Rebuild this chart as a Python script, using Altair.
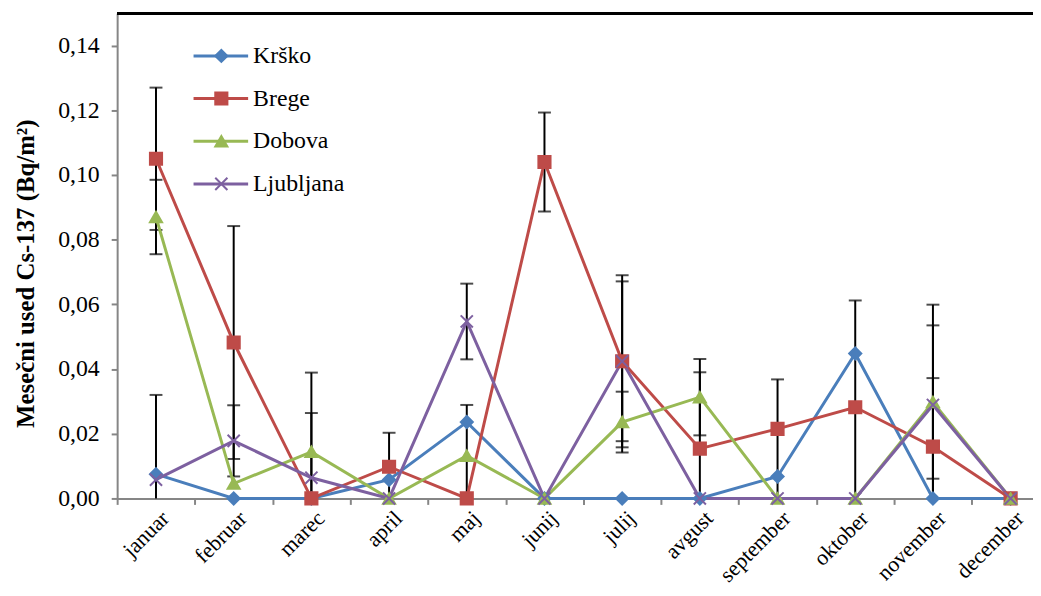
import altair as alt
import pandas as pd

# ---- data ----
months = ["januar", "februar", "marec", "april", "maj", "junij", "julij",
          "avgust", "september", "oktober", "november", "december"]
series_names = ["Krško", "Brege", "Dobova", "Ljubljana"]

krsko = [0.0075, 0.0, 0.0, 0.0058, 0.0236, 0.0, 0.0, 0.0, 0.0068, 0.0448, 0.0, 0.0]
brege = [0.105, 0.0482, 0.0, 0.0098, 0.0, 0.104, 0.0424, 0.0154, 0.0215, 0.0282, 0.016, 0.0]
dobova = [0.087, 0.0046, 0.0144, 0.0, 0.0132, 0.0, 0.0236, 0.0313, 0.0, 0.0, 0.0298, 0.0]
ljubljana = [0.0058, 0.0178, 0.0064, 0.0, 0.0547, 0.0, 0.0424, 0.0, 0.0, 0.0, 0.0289, 0.0]

krsko_err = [0.0245, 0, 0, 0, 0, 0, 0, 0, 0.030, 0, 0, 0]
brege_err = [0.022, 0.036, 0, 0.0105, 0, 0.0153, 0.0247, 0.0236, 0, 0.033, 0.0212, 0]
dobova_err = [0.0115, 0, 0.0245, 0, 0.0157, 0, 0.0094, 0.0118, 0, 0, 0.0237, 0]
ljubljana_err = [0, 0.011, 0.020, 0, 0.0117, 0, 0.0266, 0, 0, 0, 0.031, 0]

y_ticks = [0.0, 0.02, 0.04, 0.06, 0.08, 0.10, 0.12, 0.14]

# ---- styles ----
colors = ["#4A7EBB", "#BE4B48", "#98B954", "#7D60A0"]
shapes = ["diamond", "square", "triangle-up", "M-1,-1L1,1M-1,1L1,-1"]
FONT = "'Liberation Serif', 'Times New Roman', Times, serif"
AXIS_GRAY = "#868686"
W, H = 923, 489
STEP = 78.3  # pixel width of one month category

rows = []
for order, (name, vals, errs) in enumerate(zip(
        series_names, [krsko, brege, dobova, ljubljana],
        [krsko_err, brege_err, dobova_err, ljubljana_err])):
    for i, (v, e) in enumerate(zip(vals, errs)):
        rows.append(dict(idx=i, month=months[i], series=name, order=order,
                         value=v, err=e, lo=max(0.0, v - e), hi=v + e,
                         lowcap=(v - e) > 0))
df = pd.DataFrame(rows)
err_df = df[df.err > 0]
low_df = err_df[err_df.lowcap]

x_scale = alt.Scale(domain=[-0.5, -0.5 + W / STEP], nice=False, zero=False)
y_scale = alt.Scale(domain=[0, 0.15], nice=False, zero=False)
color_scale = alt.Scale(domain=series_names, range=colors)
shape_scale = alt.Scale(domain=series_names, range=shapes)

month_expr = "[" + ",".join("'%s'" % m for m in months) + "][datum.value]"

x_axis = alt.Axis(values=list(range(12)), labelExpr=month_expr,
                  tickOffset=-STEP / 2, labelOffset=STEP / 2 + 2,
                  labelAngle=-45, labelFont=FONT, labelFontSize=22,
                  labelColor="black", labelPadding=3, labelOverlap=False,
                  labelFlush=False, title=None, grid=False,
                  domainColor=AXIS_GRAY, domainWidth=2, tickColor=AXIS_GRAY,
                  tickWidth=2, tickSize=6)
y_axis = alt.Axis(values=y_ticks,
                  labelExpr="replace(format(datum.value, '.2f'), '.', ',')",
                  labelFont=FONT, labelFontSize=24, labelColor="black",
                  labelPadding=12, labelOverlap=False, labelFlush=False,
                  grid=False,
                  domainColor=AXIS_GRAY, domainWidth=2, tickColor=AXIS_GRAY,
                  tickWidth=2, tickSize=6,
                  title="Mesečni used Cs-137 (Bq/m²)", titleFont=FONT,
                  titleFontSize=25, titleFontWeight="bold", titleColor="black",
                  titlePadding=19, titleY=262)

X = alt.X("idx:Q", scale=x_scale, axis=x_axis)

bars = alt.Chart(err_df).mark_rule(color="black", strokeWidth=2).encode(
    x=alt.X("idx:Q", scale=x_scale),
    y=alt.Y("lo:Q", scale=y_scale),
    y2="hi:Q")
top_caps = alt.Chart(err_df).mark_tick(orient="horizontal", color="black",
                                       thickness=2, size=13).encode(
    x=alt.X("idx:Q", scale=x_scale), y=alt.Y("hi:Q", scale=y_scale))
low_caps = alt.Chart(low_df).mark_tick(orient="horizontal", color="black",
                                       thickness=2, size=13).encode(
    x=alt.X("idx:Q", scale=x_scale), y=alt.Y("lo:Q", scale=y_scale))

lines = alt.Chart(df).mark_line(strokeWidth=3).encode(
    x=X,
    y=alt.Y("value:Q", scale=y_scale, axis=y_axis),
    color=alt.Color("series:N", scale=color_scale, legend=None),
    order="idx:Q")

points = alt.Chart(df).mark_point(filled=True, size=150, strokeWidth=2,
                                  opacity=1).encode(
    x=alt.X("idx:Q", scale=x_scale),
    y=alt.Y("value:Q", scale=y_scale),
    color=alt.Color("series:N", scale=color_scale, legend=None),
    stroke=alt.Stroke("series:N", scale=color_scale, legend=None),
    shape=alt.Shape("series:N", scale=shape_scale, legend=None))

frame = alt.Chart(df).mark_rule(color="black", strokeWidth=2).encode(
    x=alt.value(0), x2=alt.value(W), y=alt.value(0))

main = alt.layer(bars, top_caps, low_caps, lines, points, frame)

# ---- legend drawn inside the plot ----
leg_df = pd.DataFrame({"series": series_names})
leg_y = alt.Y("series:N", scale=alt.Scale(type="point", domain=series_names,
                                          range=[43, 172], padding=0),
              axis=None)
leg_line = alt.Chart(leg_df).mark_rule(strokeWidth=3).encode(
    y=leg_y, x=alt.value(77), x2=alt.value(132),
    color=alt.Color("series:N", scale=color_scale, legend=None))
leg_pt = alt.Chart(leg_df).mark_point(filled=True, size=150, strokeWidth=2,
                                      opacity=1).encode(
    y=leg_y, x=alt.value(105),
    color=alt.Color("series:N", scale=color_scale, legend=None),
    stroke=alt.Stroke("series:N", scale=color_scale, legend=None),
    shape=alt.Shape("series:N", scale=shape_scale, legend=None))
leg_txt = alt.Chart(leg_df).mark_text(align="left", baseline="middle",
                                      font=FONT, fontSize=24,
                                      color="black").encode(
    y=leg_y, x=alt.value(137), text="series:N")
legend = alt.layer(leg_line, leg_pt, leg_txt)

chart = alt.layer(main, legend).resolve_scale(y="independent").properties(
    width=W, height=H,
    padding={"left": 110, "top": 3, "right": 0, "bottom": 88},
    autosize=alt.AutoSizeParams(type="none"),
).configure_view(stroke=None)

chart.save("out.html", embed_options={"renderer": "svg", "actions": False})
